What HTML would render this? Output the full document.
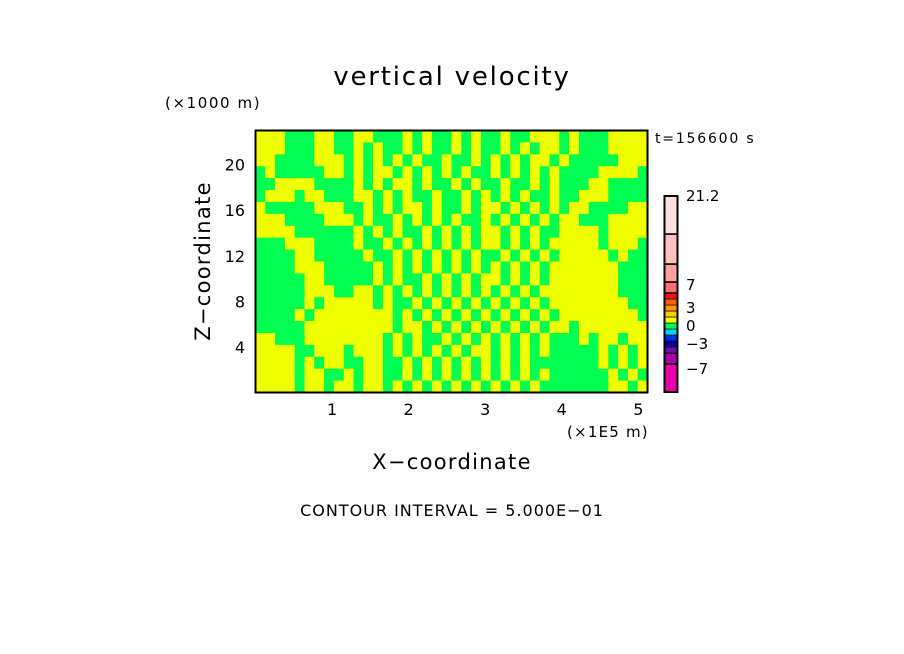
<!DOCTYPE html>
<html><head><meta charset="utf-8">
<style>
html,body{margin:0;padding:0;background:#fff;}
svg{display:block;font-family:"DejaVu Sans","Liberation Sans",sans-serif;}
</style></head>
<body>
<svg id="chart" width="904" height="654" viewBox="0 0 904 654" xmlns="http://www.w3.org/2000/svg">
<rect x="0" y="0" width="904" height="654" fill="#fff"/>
<text x="452" y="85" font-size="26" text-anchor="middle" letter-spacing="1.8">vertical velocity</text>
<text x="165" y="108" font-size="15" letter-spacing="1.6">(×1000 m)</text>
<text x="655" y="143" font-size="14" letter-spacing="1.8">t=156600 s</text>
<g id="field"></g>
<g id="xticks"></g>
<g id="yticks"></g>
<rect x="255.5" y="130.5" width="392" height="262" fill="none" stroke="#000" stroke-width="2"/>
<text x="567" y="437" font-size="15" letter-spacing="1.2">(×1E5 m)</text>
<text x="452" y="469" font-size="21" text-anchor="middle" letter-spacing="1.3">X−coordinate</text>
<text x="210" y="261" font-size="21" text-anchor="middle" letter-spacing="1.3" transform="rotate(-90 210 261)">Z−coordinate</text>
<g id="cbar"></g>
<text x="452" y="516" font-size="16" text-anchor="middle" letter-spacing="1">CONTOUR INTERVAL = 5.000E−01</text>
</svg>
<script>
const NS="http://www.w3.org/2000/svg";
// grid of sign classes: Y = slightly positive (yellow), G = slightly negative (green); top row first
const gridRows=[
"YYYGGGYYGGYYGGGYGYGGYGYGGYGGYYYGYGGGYYYY",
"YYYGGGYYGGYGYGGYGYGGYGYGGYGYGYYGYGGGYYYY",
"YYGGGGYYYGYGYGYGYGGYGGYGYGYGYYGYGGGGGYYY",
"GYGGGGGYYGYGYYGYGYGYGYGGYGYGYGYGGGGYYYYG",
"GGYYYYGGGGYGYGYYGYGGYGYGGYGGYGYGGGYYGGGG",
"GYYYGYYGGGYYGYGYGGYGGYGYGYGYGGYGGYYYGGGG",
"YGGGGGYYYGGYGYGYYGYGGYGYYGYGYGYGYYGGGGYY",
"YYYGGGGYYYGYGGYGYGYGYGGYGYGYGYGYYGGGYYYY",
"YYYYGGGGGGYGYGYGGYGYGYGYYGYGYGGYYYYGYYYY",
"GGGYYYGGGGYGGYGYGYGYGYGYYGYGYGYYYYYGYYYG",
"GGGGYYGGGGGYGGYGYGYGYGYGGYGYGYGYYYYYGYGG",
"GGGGYYYGGGGGYGYGYGYGYGYGYGYGYGYYYYYYYGGG",
"GGGGGYYGGGGGYGYGGYGYGYGYYGYGYGYYYYYYYGGG",
"GGGGGYYYGGYYGYGYGYGYGYGYGYGYGYYYYYYYYGGG",
"GGGGGYGYYYYYGYGGYGYGYGYGYGYGYGYYYYYYYYGG",
"GGGGYGYYYYYYYYGYGYGYGYGYGYGYGYGYYYYYYYYG",
"GGGGGYYYYYYYYYGYYGYGYGYGYGYGYGYYGYYYYYYY",
"YYGGGYYYYYYYYGYGYGGYGYGYGYGYGYGGGYGYYGYY",
"YYYYGGYYYGYYYGYGYGYGYGYYGYGYGYGGGGGYGYGY",
"YYYYGYGYYGGYYGGYGYGYGYGYGYGYGGGGGGGYGYGY",
"YYYYGYYGGYGYYGGYGYGYGYGYGYGYGYGGGGGGYGYG",
"YYYYGYYGYYGYYGYGYGYGYGYGYGYGYGGGGGGGYYGY"
];
const xTicks=[1,2,3,4,5];
const yTicks=[4,8,12,16,20];
const cbColors=["#e800a8","#a800a8","#6a10a8","#0a00a0","#0030e8","#00d8f0","#00ff50","#f0ff00","#ffcc00","#ff9800","#ff6000","#ff1010","#ff7070","#ffa0a0","#ffc0c0","#ffe0e0"];
const cbLabels=[21.2,7,3,0,-3,-7];
const cbLabelY=[195,284,307,325,343,368];

const X0=255.5,X1=647.5,Y0=130.5,Y1=392.5;
const xMax=5.12,zMax=23.0;
const sx=v=>X0+(X1-X0)*v/xMax;
const sy=v=>Y1-(Y1-Y0)*v/zMax;
const colMap={Y:"#f0ff00",G:"#00ff50"};

const field=document.getElementById('field');
const nr=gridRows.length,nc=gridRows[0].length;
const cw=(X1-X0)/nc,ch=(Y1-Y0)/nr;
for(let r=0;r<nr;r++){for(let c=0;c<nc;c++){
  const k=gridRows[r].charAt(c)||"Y";
  const el=document.createElementNS(NS,'rect');
  el.setAttribute('x',(X0+c*cw).toFixed(2));
  el.setAttribute('y',(Y0+r*ch).toFixed(2));
  el.setAttribute('width',(cw+0.6).toFixed(2));
  el.setAttribute('height',(ch+0.6).toFixed(2));
  el.setAttribute('fill',colMap[k]);
  
  
  field.appendChild(el);
}}
const xt=document.getElementById('xticks');
xTicks.forEach(v=>{
  const t=document.createElementNS(NS,'text');
  t.setAttribute('x',sx(v));t.setAttribute('y',415);
  t.setAttribute('font-size','16');t.setAttribute('text-anchor','middle');
  t.textContent=v;
  
  
  xt.appendChild(t);
});
const yt=document.getElementById('yticks');
yTicks.forEach(v=>{
  const t=document.createElementNS(NS,'text');
  t.setAttribute('x',245);t.setAttribute('y',sy(v)+6);
  t.setAttribute('font-size','16');t.setAttribute('text-anchor','end');
  t.textContent=v;
  
  
  yt.appendChild(t);
});
const cb=document.getElementById('cbar');
const segEdges=[392,364,353,347,341,335,329,323,317,311,305,299,293,282,264,234,196];
for(let i=0;i<cbColors.length;i++){
  const r=document.createElementNS(NS,'rect');
  r.setAttribute('x',664.5);r.setAttribute('y',segEdges[i+1]);
  r.setAttribute('width',13);r.setAttribute('height',segEdges[i]-segEdges[i+1]);
  r.setAttribute('fill',cbColors[i]);
  r.setAttribute('stroke','#000');r.setAttribute('stroke-width',i>=12||i<=1?1.5:0.6);
  
  
  cb.appendChild(r);
}
const fr=document.createElementNS(NS,'rect');
fr.setAttribute('x',664.5);fr.setAttribute('y',196);fr.setAttribute('width',13);fr.setAttribute('height',196);
fr.setAttribute('fill','none');fr.setAttribute('stroke','#000');fr.setAttribute('stroke-width',2);


cb.appendChild(fr);
cbLabels.forEach((v,i)=>{
  const t=document.createElementNS(NS,'text');
  t.setAttribute('x',686);t.setAttribute('y',cbLabelY[i]+6);
  t.setAttribute('font-size','15');
  t.textContent=v<0?'−'+Math.abs(v):String(v);
  
  
  cb.appendChild(t);
});
</script>
</body></html>
